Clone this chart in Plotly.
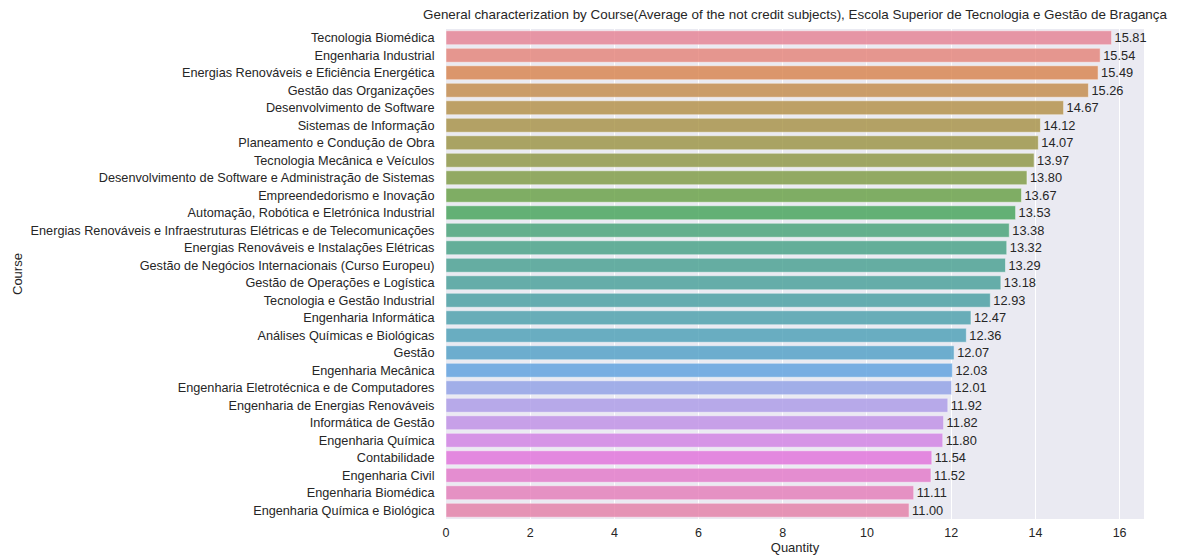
import colorsys
import math
import plotly.graph_objects as go

courses = [
    "Tecnologia Biomédica",
    "Engenharia Industrial",
    "Energias Renováveis e Eficiência Energética",
    "Gestão das Organizações",
    "Desenvolvimento de Software",
    "Sistemas de Informação",
    "Planeamento e Condução de Obra",
    "Tecnologia Mecânica e Veículos",
    "Desenvolvimento de Software e Administração de Sistemas",
    "Empreendedorismo e Inovação",
    "Automação, Robótica e Eletrónica Industrial",
    "Energias Renováveis e Infraestruturas Elétricas e de Telecomunicações",
    "Energias Renováveis e Instalações Elétricas",
    "Gestão de Negócios Internacionais (Curso Europeu)",
    "Gestão de Operações e Logística",
    "Tecnologia e Gestão Industrial",
    "Engenharia Informática",
    "Análises Químicas e Biológicas",
    "Gestão",
    "Engenharia Mecânica",
    "Engenharia Eletrotécnica e de Computadores",
    "Engenharia de Energias Renováveis",
    "Informática de Gestão",
    "Engenharia Química",
    "Contabilidade",
    "Engenharia Civil",
    "Engenharia Biomédica",
    "Engenharia Química e Biológica",
]
averages = [15.81, 15.54, 15.49, 15.26, 14.67, 14.12, 14.07, 13.97, 13.80, 13.67,
            13.53, 13.38, 13.32, 13.29, 13.18, 12.93, 12.47, 12.36, 12.07, 12.03,
            12.01, 11.92, 11.82, 11.80, 11.54, 11.52, 11.11, 11.00]
x_ticks = [0, 2, 4, 6, 8, 10, 12, 14, 16]

# --- HUSL palette (as in seaborn.husl_palette) ---
M = [[3.2406, -1.5372, -0.4986], [-0.9689, 1.8758, 0.0415], [0.0557, -0.2040, 1.0570]]
refY, refU, refV = 1.0, 0.19784, 0.46834
kappa, epsilon = 903.2963, 0.0088564


def max_chroma(L, H):
    hrad = H / 360.0 * 2 * math.pi
    sinH, cosH = math.sin(hrad), math.cos(hrad)
    sub1 = (L + 16) ** 3 / 1560896.0
    sub2 = sub1 if sub1 > epsilon else L / kappa
    result = float("inf")
    for m1, m2, m3 in M:
        top = (0.99915 * m1 + 1.05122 * m2 + 1.14460 * m3) * sub2
        rbottom = 0.86330 * m3 - 0.17266 * m2
        lbottom = 0.12949 * m3 - 0.38848 * m1
        bottom = (rbottom * sinH + lbottom * cosH) * sub2
        for t in (0.0, 1.0):
            C = L * (top - 1.05122 * t) / (bottom + 0.17266 * sinH * t)
            if 0 < C < result:
                result = C
    return result


def f_inv(t):
    return refY * ((t + 16) / 116.0) ** 3 if t > 8 else refY * t / kappa


def from_linear(c):
    return 12.92 * c if c <= 0.0031308 else 1.055 * c ** (1 / 2.4) - 0.055


def husl_to_rgb(h, s, l):
    C = max_chroma(l, h) / 100.0 * s
    hrad = math.radians(h)
    U, V = math.cos(hrad) * C, math.sin(hrad) * C
    varY = f_inv(l)
    varU = U / (13 * l) + refU
    varV = V / (13 * l) + refV
    Y = varY * refY
    X = 0 - (9 * Y * varU) / ((varU - 4) * varV - varU * varV)
    Z = (9 * Y - 15 * varV * Y - varV * X) / (3 * varV)
    return [from_linear(r[0] * X + r[1] * Y + r[2] * Z) for r in M]


def palette(n, h=0.01, s=0.9, l=0.65, desat=0.75):
    out = []
    for i in range(n):
        hue = ((i / n + h) % 1) * 359
        rgb = [min(max(v, 0), 1) for v in husl_to_rgb(hue, s * 99, l * 99)]
        hh, ll, ss = colorsys.rgb_to_hls(*rgb)
        r, g, b = colorsys.hls_to_rgb(hh, ll, ss * desat)
        out.append("rgb(%d,%d,%d)" % (round(r * 255), round(g * 255), round(b * 255)))
    return out


colors = palette(len(courses))

# Page has an 8px body margin; figure is placed at (8, 8)
W, H = 1175, 548
L_M, R_M, T_M, B_M = 438, 39, 21, 37
plot_w = W - L_M - R_M

fig = go.Figure(
    go.Bar(
        x=averages,
        y=courses,
        orientation="h",
        marker=dict(color=colors, opacity=0.8,
                    line=dict(color="rgba(255,255,255,0.5)", width=1)),
        text=["%.2f" % v for v in averages],
        textposition="outside",
        textfont=dict(size=12.8, color="#262626", family="Liberation Sans, Arial, sans-serif"),
        constraintext="none",
        cliponaxis=False,
        hoverinfo="x+y",
    )
)

fig.update_layout(
    width=W,
    height=H,
    margin=dict(l=L_M, r=R_M, t=T_M, b=B_M, autoexpand=False),
    paper_bgcolor="white",
    plot_bgcolor="#eaeaf2",
    bargap=0.2,
    showlegend=False,
    font=dict(family="Liberation Sans, Arial, sans-serif", size=12.7, color="#262626"),
    title=dict(
        text="General characterization by Course(Average of the not credit subjects), Escola Superior de Tecnologia e Gestão de Bragança",
        x=(L_M + plot_w / 2) / W,
        xanchor="center",
        xref="container",
        yref="container",
        y=1 - 2 / H,
        yanchor="top",
        pad=dict(t=0, b=0),
        font=dict(size=13.4, color="#262626"),
    ),
    xaxis=dict(
        range=[0, 16.58],
        tickvals=x_ticks,
        ticktext=[str(t) for t in x_ticks],
        showgrid=True,
        gridcolor="white",
        gridwidth=1,
        zeroline=False,
        showline=False,
        ticks="outside",
        ticklen=2,
        tickcolor="rgba(0,0,0,0)",
        tickfont=dict(size=12.5, color="#262626"),
        automargin=False,
        title=dict(text="Quantity", font=dict(size=13, color="#262626"), standoff=1),
    ),
    yaxis=dict(
        categoryorder="array",
        categoryarray=courses,
        autorange="reversed",
        showgrid=False,
        zeroline=False,
        showline=False,
        ticks="outside",
        ticklen=8,
        tickcolor="rgba(0,0,0,0)",
        automargin=False,
        tickfont=dict(size=12.7, color="#262626"),
    ),
    annotations=[
        dict(
            text="Course",
            xref="paper",
            yref="paper",
            x=(17 - 8 - L_M) / plot_w,
            y=0.5,
            xanchor="center",
            yanchor="middle",
            textangle=-90,
            showarrow=False,
            font=dict(size=13, color="#262626"),
        )
    ],
)

fig.write_html("out.html")
